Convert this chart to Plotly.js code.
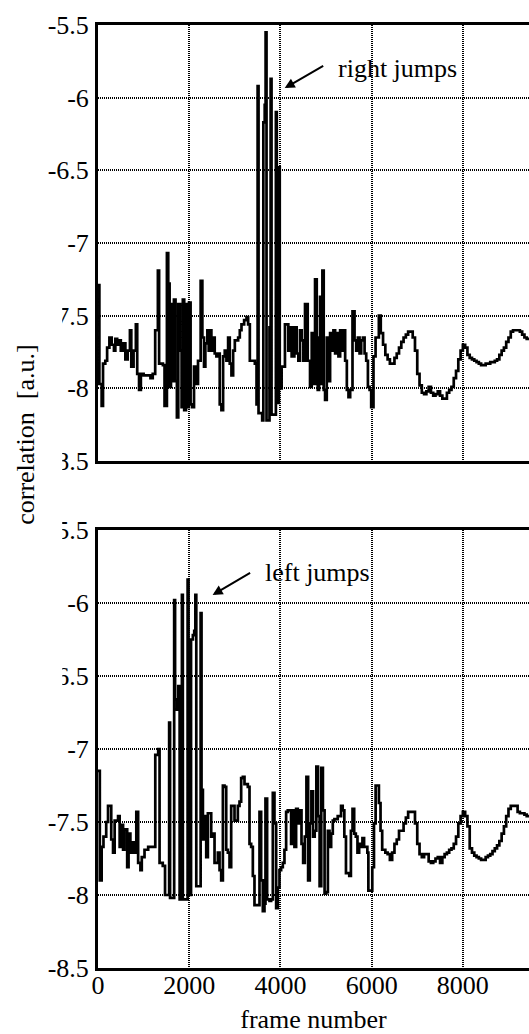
<!DOCTYPE html>
<html>
<head>
<meta charset="utf-8">
<script src="https://cdn.plot.ly/plotly-3.0.1.min.js"></script>
<style>html,body{margin:0;padding:0;background:#fff;}#chart{width:529px;height:1034px;}</style>
</head>
<body>
<div id="chart"></div>
<script>
// upper panel: right jumps (frame number, correlation)
const rightFrames = [
 0,30,80,110,160,200,250,300,350,380,
 420,450,500,550,600,650,700,730,780,830,
 860,900,940,1000,1100,1150,1200,1254,1313,1340,
 1423,1459,1511,1540,1570,1600,1640,1665,1700,1730,
 1760,1800,1833,1860,1890,1930,1960,1995,2030,2068,
 2105,2141,2193,2251,2288,2325,2354,2398,2427,2449,
 2486,2523,2559,2596,2633,2669,2706,2743,2779,2816,
 2853,2889,2926,2963,3000,3073,3109,3146,3204,3256,
 3292,3329,3402,3439,3476,3500,3520,3600,3625,3655,
 3675,3695,3760,3785,3805,3900,3920,3965,3985,4026,
 4099,4173,4209,4246,4305,4356,4393,4429,4466,4503,
 4539,4598,4649,4686,4722,4759,4796,4818,4847,4869,
 4891,4920,4949,4979,5016,5052,5089,5126,5162,5199,
 5236,5272,5309,5346,5382,5419,5456,5492,5529,5580,
 5625,5661,5698,5735,5771,5808,5845,5881,5918,5955,
 5990,6040,6086,6158,6200,6250,6300,6350,6400,6450,
 6500,6550,6600,6650,6700,6750,6800,6850,6900,6950,
 7000,7050,7100,7150,7200,7250,7300,7350,7400,7450,
 7500,7550,7600,7650,7700,7750,7800,7850,7900,7950,
 8000,8050,8100,8150,8200,8250,8300,8350,8400,8450,
 8500,8550,8600,8650,8700,8750,8800,8850,8900,8950,
 9000,9050,9100,9150,9200,9250,9300,9350,9400,9450
];
const rightCorrelation = [
 -7.29,-7.97,-8.12,-7.83,-7.81,-7.72,-7.65,-7.70,-7.74,-7.66,
 -7.70,-7.67,-7.74,-7.69,-7.80,-7.74,-7.60,-7.85,-7.74,-7.56,
 -7.90,-8.01,-7.90,-7.91,-7.91,-7.93,-7.90,-7.60,-7.19,-7.83,
 -7.84,-8.12,-7.07,-7.28,-7.99,-7.42,-7.95,-7.39,-7.95,-8.20,
 -7.42,-7.74,-8.13,-7.39,-8.15,-7.42,-8.13,-7.41,-8.11,-8.13,
 -7.85,-7.97,-7.81,-7.26,-7.65,-7.85,-7.69,-7.60,-7.74,-7.60,
 -7.74,-7.65,-7.76,-7.78,-7.76,-8.11,-8.15,-7.78,-7.74,-7.81,
 -7.65,-7.83,-7.91,-7.74,-7.67,-7.65,-7.60,-7.56,-7.53,-7.51,
 -7.56,-7.81,-7.81,-7.83,-8.11,-5.92,-8.17,-8.22,-6.17,-6.05,
 -5.55,-8.22,-7.58,-5.87,-8.18,-6.10,-8.10,-6.48,-8.00,-7.85,
 -7.56,-7.74,-7.58,-7.78,-7.58,-7.76,-7.81,-7.60,-7.67,-7.81,
 -7.42,-7.81,-7.99,-7.62,-7.97,-7.25,-7.85,-8.01,-7.65,-7.37,
 -7.97,-7.19,-8.01,-8.08,-7.65,-7.95,-7.62,-7.74,-7.60,-7.76,
 -7.62,-7.78,-7.60,-7.74,-7.60,-7.81,-8.01,-8.06,-8.01,-7.47,
 -7.67,-7.74,-7.65,-7.76,-7.67,-7.65,-7.76,-7.81,-7.99,-8.01,
 -8.13,-7.78,-7.65,-7.50,-7.62,-7.70,-7.77,-7.80,-7.83,-7.83,
 -7.79,-7.76,-7.72,-7.68,-7.65,-7.63,-7.61,-7.61,-7.65,-7.74,
 -7.90,-7.98,-8.03,-8.04,-8.02,-7.99,-8.03,-8.05,-8.04,-8.02,
 -8.05,-8.07,-8.07,-8.03,-8.01,-7.99,-7.93,-7.88,-7.80,-7.74,
 -7.70,-7.72,-7.77,-7.79,-7.80,-7.81,-7.82,-7.83,-7.84,-7.84,
 -7.83,-7.83,-7.82,-7.82,-7.81,-7.80,-7.77,-7.74,-7.72,-7.68,
 -7.65,-7.61,-7.60,-7.60,-7.60,-7.61,-7.63,-7.65,-7.66,-7.66
];

// lower panel: left jumps (frame number, correlation)
const leftFrames = [
 0,40,80,120,180,220,290,330,365,440,
 475,510,550,580,640,670,710,750,800,840,
 880,930,960,1020,1100,1200,1256,1320,1350,1420,
 1470,1560,1580,1670,1690,1730,1760,1790,1840,1860,
 1965,1985,2040,2080,2110,2135,2155,2250,2270,2300,
 2336,2373,2409,2482,2519,2555,2628,2665,2701,2738,
 2774,2811,2847,2884,2920,2993,3066,3103,3139,3176,
 3212,3285,3322,3358,3395,3431,3504,3541,3577,3614,
 3650,3672,3708,3760,3796,3833,3869,3906,3942,3979,
 4015,4052,4088,4125,4161,4234,4271,4307,4344,4380,
 4426,4462,4498,4534,4570,4607,4643,4679,4715,4751,
 4787,4823,4859,4895,4931,4968,5004,5040,5076,5112,
 5148,5184,5256,5329,5365,5401,5437,5509,5545,5581,
 5617,5653,5689,5726,5762,5798,5834,5906,5928,6014,
 6051,6087,6159,6195,6231,6300,6350,6400,6450,6500,
 6550,6600,6650,6700,6750,6800,6850,6900,6950,7000,
 7050,7100,7150,7200,7250,7300,7350,7400,7450,7500,
 7550,7600,7650,7700,7750,7800,7850,7900,7950,8000,
 8050,8100,8150,8200,8250,8300,8350,8400,8450,8500,
 8550,8600,8650,8700,8750,8800,8850,8900,8950,9000,
 9050,9100,9150,9200,9250,9300,9350,9400,9450
];
const leftCorrelation = [
 -7.15,-7.90,-7.67,-7.60,-7.50,-7.39,-7.62,-7.71,-7.49,-7.46,
 -7.67,-7.52,-7.69,-7.55,-7.81,-7.58,-7.71,-7.64,-7.71,-7.43,
 -7.78,-7.83,-7.74,-7.69,-7.67,-7.67,-7.04,-7.00,-7.78,-7.80,
 -8.00,-6.82,-8.02,-5.98,-6.66,-6.73,-6.57,-8.03,-5.945,-8.03,
 -5.84,-8.00,-6.25,-6.22,-6.19,-5.945,-7.94,-6.07,-7.28,-7.62,
 -7.46,-7.74,-7.44,-7.60,-7.58,-7.78,-7.71,-7.83,-7.90,-7.25,
 -7.26,-7.69,-7.71,-7.81,-7.39,-7.49,-7.39,-7.36,-7.20,-7.19,
 -7.24,-7.26,-7.65,-7.67,-7.87,-8.07,-8.07,-7.43,-7.90,-8.11,
 -8.06,-7.34,-8.03,-8.04,-8.03,-7.30,-7.51,-8.09,-7.95,-7.83,
 -7.81,-7.78,-7.69,-7.43,-7.42,-7.65,-7.42,-7.67,-7.41,-7.51,
 -7.42,-7.65,-7.78,-7.60,-7.19,-7.90,-7.51,-7.29,-7.60,-7.56,
 -7.12,-7.46,-7.94,-7.13,-7.42,-7.99,-7.98,-7.56,-7.67,-7.58,
 -7.49,-7.48,-7.46,-7.39,-7.42,-7.60,-7.85,-7.87,-7.56,-7.41,
 -7.58,-7.60,-7.71,-7.65,-7.67,-7.61,-7.67,-7.71,-7.97,-7.81,
 -7.51,-7.25,-7.37,-7.56,-7.69,-7.71,-7.72,-7.76,-7.71,-7.65,
 -7.62,-7.56,-7.56,-7.51,-7.47,-7.43,-7.43,-7.43,-7.51,-7.65,
 -7.72,-7.74,-7.72,-7.72,-7.77,-7.78,-7.77,-7.75,-7.74,-7.78,
 -7.74,-7.72,-7.71,-7.69,-7.68,-7.65,-7.60,-7.51,-7.46,-7.43,
 -7.46,-7.53,-7.68,-7.71,-7.73,-7.74,-7.75,-7.76,-7.76,-7.74,
 -7.73,-7.72,-7.70,-7.68,-7.66,-7.63,-7.58,-7.53,-7.46,-7.41,
 -7.39,-7.39,-7.39,-7.43,-7.44,-7.44,-7.45,-7.46,-7.46
];

const xTickVals = [0, 2000, 4000, 6000, 8000];
const xTickText = ["0", "2000", "4000", "6000", "8000"];
const yTickVals = [-8.5, -8, -7.5, -7, -6.5, -6, -5.5];
const yTickText = ["-8.5", "-8", "-7.5", "-7", "-6.5", "-6", "-5.5"];

const FONT = "'Liberation Serif', 'Times New Roman', serif";
const lineStyle = {color: "#000", width: 2.7, shape: "hv"};

const traces = [
  {type: "scatter", mode: "lines", x: rightFrames, y: rightCorrelation,
   xaxis: "x2", yaxis: "y2", line: lineStyle, hoverinfo: "skip", showlegend: false},
  {type: "scatter", mode: "lines", x: leftFrames, y: leftCorrelation,
   xaxis: "x", yaxis: "y", line: lineStyle, hoverinfo: "skip", showlegend: false}
];

const gridCommon = {
  showgrid: true, gridcolor: "#000", gridwidth: 2, griddash: "1px,1px",
  zeroline: false, showline: true, linecolor: "#000", linewidth: 3,
  ticks: "", tickfont: {family: FONT, size: 26, color: "#000"}
};

const layout = {
  width: 529, height: 1034,
  margin: {l: 98, r: 0, t: 25, b: 66},
  paper_bgcolor: "#fff", plot_bgcolor: "#fff",
  font: {family: FONT, size: 26, color: "#000"},
  showlegend: false,
  xaxis: Object.assign({}, gridCommon, {
    anchor: "y", domain: [0, 1], range: [0, 9450], mirror: true,
    tickvals: xTickVals, ticktext: xTickText, ticklabelstandoff: -8,
    title: {text: "frame number", font: {family: FONT, size: 26, color: "#000"}, standoff: 24}
  }),
  xaxis2: Object.assign({}, gridCommon, {
    anchor: "y2", matches: "x", range: [0, 9450], mirror: true,
    tickvals: xTickVals, showticklabels: false
  }),
  yaxis: Object.assign({}, gridCommon, {
    anchor: "x", domain: [0, 0.4645], range: [-8.5, -5.5],
    tickvals: yTickVals, ticktext: yTickText, ticklabelstandoff: 1
  }),
  yaxis2: Object.assign({}, gridCommon, {
    anchor: "x2", domain: [0.5376, 1], range: [-8.5, -5.5],
    tickvals: yTickVals, ticktext: yTickText, ticklabelstandoff: 1
  }),
  shapes: [
    {type: "rect", xref: "paper", yref: "paper", x0: -0.229, x1: -0.083, y0: 0.279, y1: 0.724,
     fillcolor: "#fff", line: {width: 0}, layer: "above"}
  ],
  annotations: [
    {xref: "paper", yref: "paper", x: -0.168, y: 0.565, xanchor: "center", yanchor: "middle",
     text: "correlation\u00a0\u00a0[a.u.]", textangle: -90, showarrow: false,
     font: {family: FONT, size: 26, color: "#000"}},
    {xref: "x2", yref: "y2", x: 6574, y: -5.796, xanchor: "center", yanchor: "middle",
     text: "right jumps", showarrow: false, font: {family: FONT, size: 26, color: "#000"}},
    {xref: "x2", yref: "y2", x: 4094, y: -5.934, text: "", showarrow: true,
     ax: 40, ay: -23, arrowhead: 2, arrowsize: 1, arrowwidth: 2, arrowcolor: "#000", standoff: 0},
    {xref: "x", yref: "y", x: 4807, y: -5.788, xanchor: "center", yanchor: "middle",
     text: "left jumps", showarrow: false, font: {family: FONT, size: 26, color: "#000"}},
    {xref: "x", yref: "y", x: 2513, y: -5.945, text: "", showarrow: true,
     ax: 39, ay: -23, arrowhead: 2, arrowsize: 1, arrowwidth: 2, arrowcolor: "#000", standoff: 0}
  ]
};

Plotly.newPlot("chart", traces, layout, {staticPlot: true, displayModeBar: false});
</script>
</body>
</html>
